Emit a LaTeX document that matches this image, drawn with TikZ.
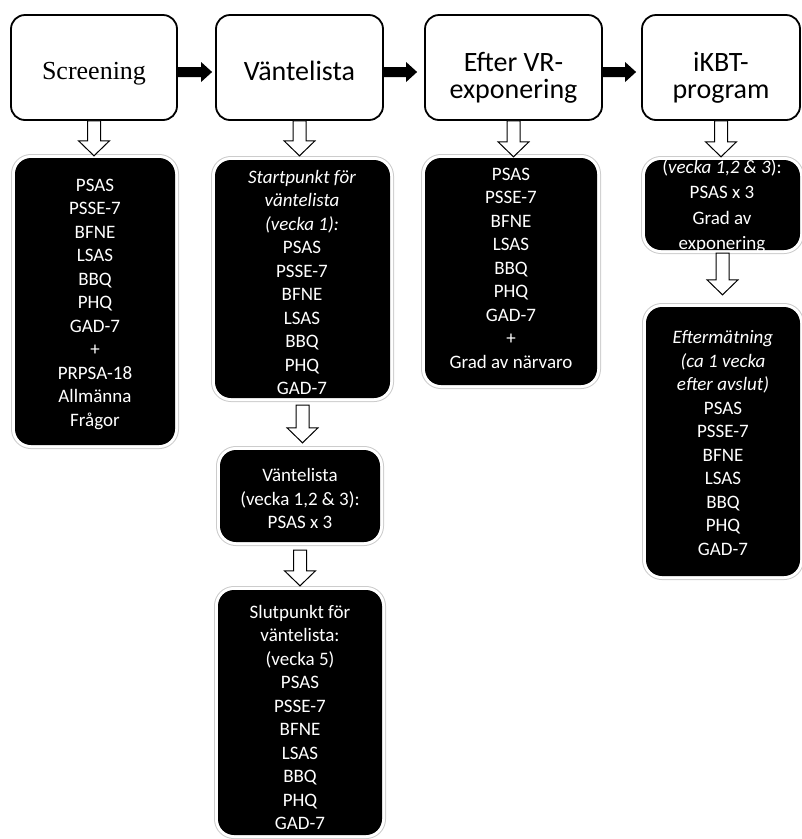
\documentclass[tikz,border=0pt]{standalone}
\usepackage{fontspec}
\setmainfont{Carlito}
\newfontfamily\screenfont{Liberation Serif}
\usetikzlibrary{calc}
\newcommand\bigarrow[3]{%
  \fill[black] let \p1=(#1.east), \p2=(#2.west) in
    (\x1,\y1-4.5pt+5pt) -- (\x2-#3pt-11pt,\y1-4.5pt+5pt) -- (\x2-#3pt-11pt,\y1-4.5pt+10pt)
    -- (\x2-#3pt,\y1-4.5pt) -- (\x2-#3pt-11pt,\y1-4.5pt-10pt) -- (\x2-#3pt-11pt,\y1-4.5pt-5pt)
    -- (\x1,\y1-4.5pt-5pt) -- cycle;}
\newcommand\hollowdown[4]{%
  \filldraw[fill=white, draw=black, line width=1pt, line join=miter] let \p1=(#1.south), \p2=(#2.north) in
    (\x1-6.5pt,\y1-#3pt) -- (\x1-6.5pt,\y2+#4pt+15pt) -- (\x1-15.5pt,\y2+#4pt+15pt)
    -- (\x1,\y2+#4pt) -- (\x1+15.5pt,\y2+#4pt+15pt) -- (\x1+6.5pt,\y2+#4pt+15pt)
    -- (\x1+6.5pt,\y1-#3pt) -- cycle;}
\begin{document}
\begin{tikzpicture}[x=1pt,y=-1pt,
  topbox/.style={draw=black, line width=1.8pt, rounded corners=14pt, fill=white, inner sep=0pt},
  blackbox/.style={fill=black, rounded corners=16pt, inner sep=0pt,
    preaction={draw=gray!40, line width=8pt}, preaction={draw=white, line width=6pt}},
  toptext/.style={font=\fontsize{28}{27}\selectfont, align=center, inner sep=0pt},
  listtext/.style={text=white, font=\fontsize{19}{23.5}\selectfont, align=center, inner sep=0pt}]
\useasboundingbox (0,0) rectangle (802,839);

% top row
\node[topbox, minimum width=166pt, minimum height=105pt] (scr) at (94,67.5) {};
\node[topbox, minimum width=167pt, minimum height=105pt] (wait) at (299.5,67.5) {};
\node[topbox, minimum width=177pt, minimum height=105pt] (efter) at (513.5,67.5) {};
\node[topbox, minimum width=158pt, minimum height=105pt] (ikbt) at (721,67.5) {};

\node[toptext, font=\screenfont\fontsize{26}{30}\selectfont] (scr-t) at (94,74) {Screening};
\node[toptext] (wait-t) at (299.5,71) {Väntelista};
\node[toptext] (efter-t) at (513.5,78) {Efter VR-\\exponering};
\node[toptext] (ikbt-t) at (721,78) {iKBT-\\program};

% black boxes
\node[blackbox, minimum width=160pt, minimum height=287pt] (bscr) at (95,301.5) {};
\node[blackbox, minimum width=175pt, minimum height=238pt] (bstart) at (302.5,279) {};
\node[blackbox, minimum width=160pt, minimum height=92pt] (bvecka) at (300,496) {};
\node[blackbox, minimum width=164pt, minimum height=245pt] (bslut) at (300,712.5) {};
\node[blackbox, minimum width=172pt, minimum height=227pt] (befter) at (511,271.5) {};
\node[blackbox, minimum width=155pt, minimum height=90pt] (bikbt1) at (722.5,205) {};
\node[blackbox, minimum width=154pt, minimum height=269pt] (beft) at (723,441.5) {};

% texts
\node[listtext] (bscr-t) at (95,304) {PSAS\\PSSE-7\\BFNE\\LSAS\\BBQ\\PHQ\\GAD-7\\+\\PRPSA-18\\Allmänna\\Frågor};
\node[listtext] (bstart-t) at (302,282.5) {\textit{Startpunkt för}\\\textit{väntelista}\\\textit{(vecka 1):}\\PSAS\\PSSE-7\\BFNE\\LSAS\\BBQ\\PHQ\\GAD-7};
\node[listtext] (bvecka-t) at (300,498.5) {Väntelista\\(vecka 1,2 \& 3):\\PSAS x 3};
\node[listtext] (bslut-t) at (300,717.5) {Slutpunkt för\\väntelista:\\(vecka 5)\\PSAS\\PSSE-7\\BFNE\\LSAS\\BBQ\\PHQ\\GAD-7};
\node[listtext] (befter-t) at (511,268) {PSAS\\PSSE-7\\BFNE\\LSAS\\BBQ\\PHQ\\GAD-7\\+\\Grad av närvaro};
\node[listtext, font=\fontsize{19}{25.5}\selectfont] (bikbt1-t) at (722,206) {(\textit{vecka 1,2 \& 3}):\\PSAS x 3\\Grad av\\exponering};
\node[listtext] (beft-t) at (723,443) {\textit{Eftermätning}\\\textit{(ca 1 vecka}\\\textit{efter avslut)}\\PSAS\\PSSE-7\\BFNE\\LSAS\\BBQ\\PHQ\\GAD-7};

% arrows
\bigarrow{scr}{wait}{3}
\bigarrow{wait}{efter}{7}
\bigarrow{efter}{ikbt}{5}

\hollowdown{scr}{bscr}{0}{2}
\hollowdown{wait}{bstart}{0}{4}
\hollowdown{efter}{befter}{0}{1}
\hollowdown{ikbt}{bikbt1}{0}{3}
\hollowdown{bstart}{bvecka}{7}{7}
\hollowdown{bvecka}{bslut}{8}{4}
\hollowdown{bikbt1}{beft}{3}{12}
\end{tikzpicture}
\end{document}
